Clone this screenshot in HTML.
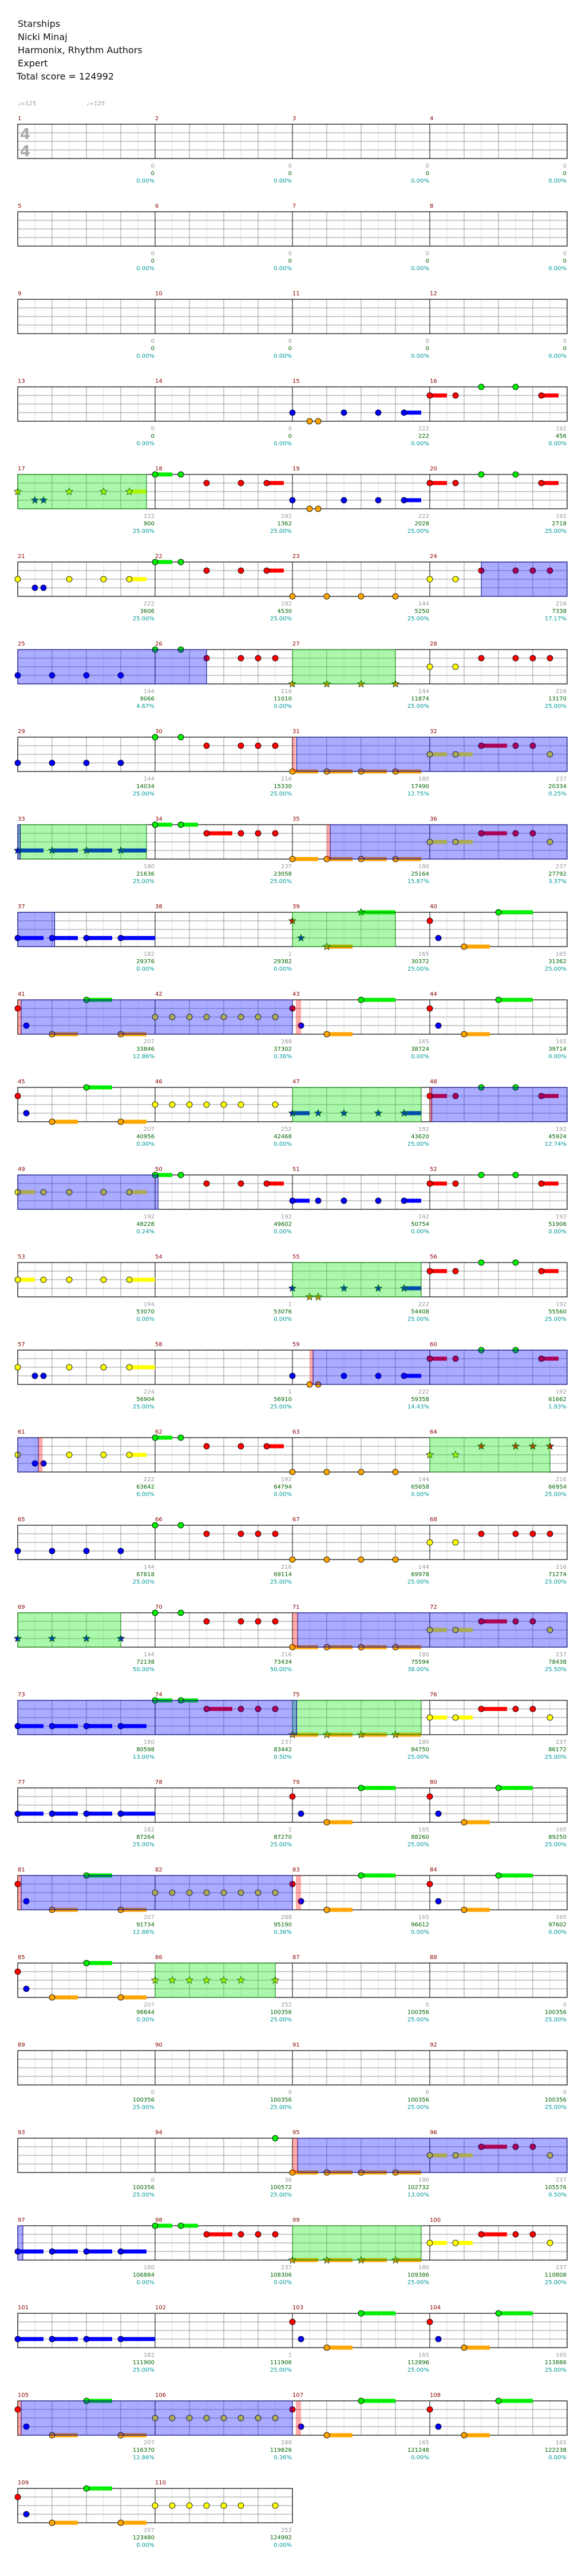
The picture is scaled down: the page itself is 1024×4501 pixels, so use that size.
<!DOCTYPE html>
<html><head><meta charset="utf-8">
<style>
html,body{margin:0;padding:0;background:#fff;}
body{width:1024px;height:4501px;overflow:hidden;position:relative;}
.hd{position:absolute;left:31px;font:16px "DejaVu Sans","Liberation Sans",sans-serif;color:#111;line-height:23px;}
svg{position:absolute;left:0;top:0;}
</style></head><body>
<div class="hd" style="top:30px">Starships<br>Nicki Minaj<br>Harmonix, Rhythm Authors<br>Expert</div>
<div class="hd" style="top:122px;left:29px">Total score = 124992</div>
<svg id="s" width="1024" height="4501" xmlns="http://www.w3.org/2000/svg" font-family="DejaVu Sans, Liberation Sans, sans-serif">
<text x="31" y="184" font-size="10" fill="#999">♩=125</text>
<text x="151" y="184" font-size="10" fill="#999">♩=125</text>
<text x="35" y="243" font-size="26" font-weight="bold" fill="#aaa">4</text>
<text x="35" y="273" font-size="26" font-weight="bold" fill="#aaa">4</text>
</svg>
<script>
var S=document.getElementById('s'),NS='http://www.w3.org/2000/svg';
function el(t,a,txt){var e=document.createElementNS(NS,t);for(var k in a)e.setAttribute(k,a[k]);if(txt!==undefined)e.textContent=txt;S.appendChild(e);return e;}
function mx(m){return 31+240*((m-1)%4);}
function my(m){return 217+153*Math.floor((m-1)/4);}
var TOT=110;
var scores=[
["0","0","0.00%"],["0","0","0.00%"],["0","0","0.00%"],["0","0","0.00%"],
["0","0","0.00%"],["0","0","0.00%"],["0","0","0.00%"],["0","0","0.00%"],
["0","0","0.00%"],["0","0","0.00%"],["0","0","0.00%"],["0","0","0.00%"],
["0","0","0.00%"],["0","0","0.00%"],["222","222","0.00%"],["192","456","0.00%"],
["222","900","25.00%"],["192","1362","25.00%"],["222","2028","25.00%"],["192","2718","25.00%"],
["222","3606","25.00%"],["192","4530","25.00%"],["144","5250","25.00%"],["216","7338","17.17%"],
["144","9066","4.67%"],["216","11010","0.00%"],["144","11874","25.00%"],["216","13170","25.00%"],
["144","14034","25.00%"],["216","15330","25.00%"],["180","17490","12.75%"],["237","20334","0.25%"],
["180","21636","25.00%"],["237","23058","25.00%"],["180","25164","15.87%"],["237","27792","3.37%"],
["182","29376","0.00%"],["1","29382","0.00%"],["165","30372","25.00%"],["165","31362","25.00%"],
["207","33846","12.86%"],["288","37302","0.36%"],["165","38724","0.00%"],["165","39714","0.00%"],
["207","40956","0.00%"],["252","42468","0.00%"],["192","43620","25.00%"],["192","45924","12.74%"],
["192","48228","0.24%"],["192","49602","0.00%"],["192","50754","0.00%"],["192","51906","0.00%"],
["194","53070","0.00%"],["1","53076","0.00%"],["222","54408","25.00%"],["192","55560","25.00%"],
["224","56904","25.00%"],["1","56910","25.00%"],["222","59358","14.43%"],["192","61662","1.93%"],
["222","63642","0.00%"],["192","64794","0.00%"],["144","65658","0.00%"],["216","66954","25.00%"],
["144","67818","25.00%"],["216","69114","25.00%"],["144","69978","25.00%"],["216","71274","25.00%"],
["144","72138","50.00%"],["216","73434","50.00%"],["180","75594","38.00%"],["237","78438","25.50%"],
["180","80598","13.00%"],["237","83442","0.50%"],["180","84750","25.00%"],["237","86172","25.00%"],
["182","87264","25.00%"],["1","87270","25.00%"],["165","88260","25.00%"],["165","89250","25.00%"],
["207","91734","12.86%"],["288","95190","0.36%"],["165","96612","0.00%"],["165","97602","0.00%"],
["207","98844","0.00%"],["252","100356","25.00%"],["0","100356","25.00%"],["0","100356","25.00%"],
["0","100356","25.00%"],["0","100356","25.00%"],["0","100356","25.00%"],["0","100356","25.00%"],
["0","100356","25.00%"],["36","100572","25.00%"],["180","102732","13.00%"],["237","105576","0.50%"],
["180","106884","0.00%"],["237","108306","0.00%"],["180","109386","25.00%"],["237","110808","25.00%"],
["182","111900","25.00%"],["1","111906","25.00%"],["165","112896","25.00%"],["165","113886","25.00%"],
["207","116370","12.86%"],["288","119826","0.36%"],["165","121248","0.00%"],["165","122238","0.00%"],
["207","123480","0.00%"],["252","124992","0.00%"]];
var A="B0 O2 O3 B6 B10 B13:2",Bp="R0:2 R3 G6 G10 R13:2",C="G0:2 G3 R6 R10 R13:2",O4="O0 O4 O8 O12",
D="Y0 Y3 R6 R10 R12 R14",Bq="B0 B4 B8 B12",E="G0 G3 R6 R10 R12 R14",F="O0:3 O4:3 O8:3 O12:3",
H="Y0:2 Y3:2 R6:3 R10 R12 Y14",I="B0:3 B4:3 B8:3 B12:4",J="G0:2 G3:2 R6:3 R10 R12 R14",
K="R0 B1 O4:3 G8:4",L="R0 B1 O4:3 G8:3 O12:3",M8="Y0 Y2 Y4 Y6 Y8 Y10 Y12 Y14",N="Y0 Y2 Y4 Y6 Y8 Y10 Y14";
function star(s){return s.split(' ').map(function(x){return '*'+x}).join(' ');}
var notes={15:A,16:Bp,17:"*Y0 *B2 *B3 *Y6 *Y10 *Y13:2",18:C,19:A,20:Bp,21:"Y0 B2 B3 Y6 Y10 Y13:2",22:C,23:O4,24:D,
25:Bq,26:E,27:star(O4),28:D,29:Bq,30:E,31:F,32:H,33:star("B0:3 B4:3 B8:3 B12:3"),34:J,35:F,36:H,37:I,
39:star(K),40:K,41:L,42:M8,43:K,44:K,45:L,46:N,47:star("B0:2 B3 B6 B10 B13:2"),48:Bp,
49:"Y0:2 Y3 Y6 Y10 Y13:2",50:C,51:"B0:2 B3 B6 B10 B13:2",52:Bp,53:"Y0:2 Y3 Y6 Y10 Y13:3",
55:star("B0 O2 O3 B6 B10 B13:2"),56:Bp,57:"Y0 B2 B3 Y6 Y10 Y13:3",59:A,60:Bp,61:"Y0 B2 B3 Y6 Y10 Y13:2",62:C,63:O4,
64:star(D),65:Bq,66:E,67:O4,68:D,69:star(Bq),70:E,71:F,72:H,73:"B0:3 B4:3 B8:3 B12:3",74:J,75:star(F),76:H,
77:I,79:K,80:K,81:L,82:M8,83:K,84:K,85:L,86:star(N),94:"G14",95:F,96:H,97:"B0:3 B4:3 B8:3 B12:3",98:J,
99:star(F),100:H,101:I,103:K,104:K,105:L,106:M8,107:K,108:K,109:L,110:N};
var lane={G:0,R:1,Y:2,B:3,O:4},col={G:"#00ee00",R:"#ff0000",Y:"#ffff00",B:"#0000ff",O:"#ffa500"};
var rows=Math.ceil(TOT/4);
for(var r=0;r<rows;r++){
  var y=217+153*r,nm=Math.min(4,TOT-r*4),x0=31,x1=31+240*nm;
  for(var i=1;i<nm*8;i++){var x=x0+30*i;if(i%8==0)continue;
    el('line',{x1:x,y1:y,x2:x,y2:y+60,stroke:(i%2?'#dddddd':'#999999'),'stroke-width':1});}
  for(var j=1;j<4;j++)el('line',{x1:x0,y1:y+15*j,x2:x1,y2:y+15*j,stroke:'#999999','stroke-width':1});
  for(var k=1;k<nm;k++)el('line',{x1:x0+240*k,y1:y,x2:x0+240*k,y2:y+60,stroke:'#000','stroke-width':1});
  el('rect',{x:x0,y:y,width:x1-x0,height:60,fill:'none',stroke:'#000','stroke-width':1.2});
}
for(var m=1;m<=TOT;m++){
  var x=mx(m),y=my(m),sc=scores[m-1];
  el('text',{x:x,y:y-7,'font-size':10,fill:'#8b0000'},String(m));
  el('text',{x:x+239,y:y+76,'font-size':10,fill:'#999','text-anchor':'end'},sc[0]);
  el('text',{x:x+239,y:y+89,'font-size':10,fill:'#006400','text-anchor':'end'},sc[1]);
  el('text',{x:x+239,y:y+102,'font-size':10,fill:'#009999','text-anchor':'end'},sc[2]);
}
function starPts(cx,cy,R,r){var p=[];for(var i=0;i<10;i++){var a=-Math.PI/2+i*Math.PI/5,rr=i%2?r:R;p.push((cx+rr*Math.cos(a)).toFixed(1)+','+(cy+rr*Math.sin(a)).toFixed(1));}return p.join(' ');}
var heads=[];
for(var m in notes){
  notes[m].split(' ').forEach(function(t){
    var st=t[0]=='*';if(st)t=t.slice(1);
    var L=t[0],pp=t.slice(1).split(':'),pos=+pp[0],len=pp[1]?+pp[1]:0;
    var x=mx(+m)+pos*15,y=my(+m)+lane[L]*15;
    if(len)el('rect',{x:x,y:y-3.5,width:len*15,height:7,fill:col[L]});
    heads.push([x,y,L,st]);
  });
}
heads.forEach(function(h){
  if(h[3])el('polygon',{points:starPts(h[0],h[1],6.5,2.8),fill:col[h[2]],stroke:'#003300','stroke-width':0.8});
  else el('circle',{cx:h[0],cy:h[1],r:5,fill:col[h[2]],stroke:'#000','stroke-width':0.8});
});
function span(a,b,fill,stroke){
  while(a<b){
    var m=Math.floor(a/16)+1,row=Math.floor((m-1)/4),rowEnd=(row+1)*64,e=Math.min(b,rowEnd);
    var x=31+((a-row*64)*15),w=(e-a)*15,y=217+153*row;
    el('rect',{x:x,y:y,width:w,height:60,fill:fill,stroke:stroke||'none','stroke-width':1});
    a=e;
  }
}
function g(m,p){return (m-1)*16+p;}
var GR="rgba(0,230,0,0.33)",BL="rgba(0,0,255,0.33)",PK="rgba(255,0,0,0.33)";
[[17,0,17,15],[27,0,27,12],[33,0,33,15],[39,0,39,12],[47,0,47,15],[55,0,55,15],[64,0,64,14],[69,0,69,12],[75,0,75,15],[86,0,86,14],[99,0,99,15]]
.forEach(function(s){span(g(s[0],s[1]),g(s[2],s[3]),GR,'#007700');});
[[24,6,26,6],[31,0.5,33,0.3],[35,4.4,37,4.3],[41,0.4,43,0],[48,0.2,50,0.35],[59,2.4,61,2.4],[71,0.6,75,0.5],[81,0.4,83,0],[95,0.6,97,0.6],[105,0.4,107,0]]
.forEach(function(s){span(g(s[0],s[1]),g(s[2],s[3]),BL,'#000088');});
[[31,0,0.4],[35,4,4.4],[41,0,0.4],[43,0.4,1],[48,0,0.3],[59,2,2.4],[61,2.4,2.9],[71,0,0.6],[81,0,0.4],[83,0.4,1],[95,0,0.6],[105,0,0.4],[107,0.4,1]]
.forEach(function(s){span(g(s[0],s[1]),g(s[0],s[2]),PK);});
</script>
</body></html>
